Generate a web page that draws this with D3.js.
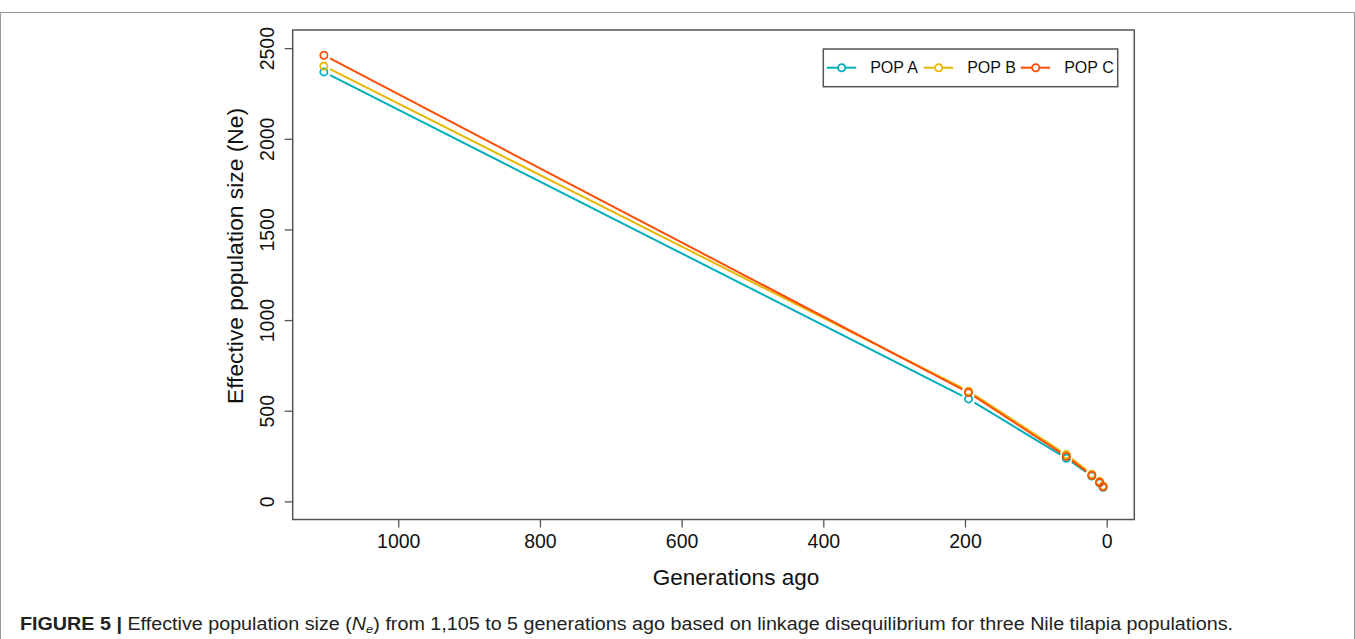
<!DOCTYPE html>
<html>
<head>
<meta charset="utf-8">
<script src="https://cdn.jsdelivr.net/npm/d3@7"></script>
<style>
  body { margin: 0; background: #fff; }
  svg { display: block; font-family: "Liberation Sans", Arial, sans-serif; }
</style>
</head>
<body>
<div id="chart"></div>
<script>
// generations ago (x) and Ne per population (y)
var generations = [1105, 195, 57, 21, 10, 5];
var popA = [2369, 565, 238, 140, 102, 78];
var popB = [2401, 608, 258, 150, 110, 85];
var popC = [2461, 600, 248, 143, 105, 80];
var seriesNames = ["POP A", "POP B", "POP C"];
var seriesColors = ["#00AFBB", "#E7B800", "#FC4E07"];
var xTicks = [0, 200, 400, 600, 800, 1000];
var yTicks = [0, 500, 1000, 1500, 2000, 2500];

var W = 1355, H = 639;
var svg = d3.select("#chart").append("svg")
    .attr("width", W).attr("height", H);

// outer figure frame
svg.append("rect")
    .attr("x", 0.5).attr("y", 12.5)
    .attr("width", W - 1).attr("height", 700)
    .attr("fill", "none").attr("stroke", "#999").attr("stroke-width", 1);

// plot region
var box = {left: 292.7, right: 1134.3, top: 30, bottom: 519.5};

var x = d3.scaleLinear().domain([1149, -39]).range([box.left, box.right]);
var y = d3.scaleLinear().domain([-100, 2600]).range([box.bottom, box.top]);

// axes
var yAxis = svg.append("g")
    .attr("transform", "translate(" + box.left + ",0)")
    .call(d3.axisLeft(y).tickValues(yTicks).tickFormat(d3.format("d")).tickSize(8).tickSizeOuter(0));
yAxis.select(".domain").remove();
yAxis.selectAll("line").attr("stroke", "#555").attr("stroke-width", 1.3);
yAxis.selectAll("text")
    .attr("x", 0).attr("y", -26).attr("dy", "0.35em")
    .attr("text-anchor", "middle")
    .attr("transform", "rotate(-90)")
    .style("font-size", "19.5px").attr("fill", "#111");

var xAxis = svg.append("g")
    .attr("transform", "translate(0," + box.bottom + ")")
    .call(d3.axisBottom(x).tickValues(xTicks).tickFormat(d3.format("d")).tickSize(8).tickSizeOuter(0));
xAxis.select(".domain").remove();
xAxis.selectAll("line").attr("stroke", "#555").attr("stroke-width", 1.3);
xAxis.selectAll("text")
    .attr("y", 22).attr("dy", "0.35em")
    .style("font-size", "19.5px").attr("fill", "#111");

// plot box
svg.append("rect")
    .attr("x", box.left).attr("y", box.top)
    .attr("width", box.right - box.left).attr("height", box.bottom - box.top)
    .attr("fill", "none").attr("stroke", "#555").attr("stroke-width", 1.5);

// axis titles
svg.append("text")
    .attr("x", 736).attr("y", 577).attr("dy", "0.35em")
    .attr("text-anchor", "middle")
    .style("font-size", "22.5px").attr("fill", "#111")
    .text("Generations ago");

svg.append("text")
    .attr("transform", "translate(235,256) rotate(-90)")
    .attr("dy", "0.35em")
    .attr("text-anchor", "middle")
    .style("font-size", "22.8px").attr("fill", "#111")
    .text("Effective population size (Ne)");

// type = "b": points with broken line segments between them
var gap = 7;
var allSeries = [popA, popB, popC];
allSeries.forEach(function (vals, k) {
    var pts = generations.map(function (g, i) { return [x(g), y(vals[i])]; });
    var g = svg.append("g").attr("class", "series");
    d3.pairs(pts).forEach(function (p) {
        var dx = p[1][0] - p[0][0], dy = p[1][1] - p[0][1];
        var len = Math.sqrt(dx * dx + dy * dy);
        if (len <= 2 * gap) return;
        var ux = dx / len, uy = dy / len;
        g.append("line")
            .attr("x1", p[0][0] + ux * gap).attr("y1", p[0][1] + uy * gap)
            .attr("x2", p[1][0] - ux * gap).attr("y2", p[1][1] - uy * gap)
            .attr("stroke", seriesColors[k]).attr("stroke-width", 2);
    });
    g.selectAll("circle").data(pts).enter().append("circle")
        .attr("cx", function (d) { return d[0]; })
        .attr("cy", function (d) { return d[1]; })
        .attr("r", 3.6)
        .attr("fill", "none")
        .attr("stroke", seriesColors[k]).attr("stroke-width", 1.8);
});

// legend
var legend = svg.append("g").attr("transform", "translate(823.3,49)");
legend.append("rect")
    .attr("width", 294.4).attr("height", 37.7)
    .attr("fill", "#fff").attr("stroke", "#555").attr("stroke-width", 1.5);
var item = legend.selectAll(".item").data(seriesNames).enter().append("g")
    .attr("class", "item")
    .attr("transform", function (d, i) { return "translate(" + (3.4 + i * 97) + ",18.7)"; });
item.append("line")
    .attr("x1", 0).attr("x2", 29.5)
    .attr("stroke", function (d, i) { return seriesColors[i]; })
    .attr("stroke-width", 2);
item.append("circle")
    .attr("cx", 15).attr("r", 3.6)
    .attr("fill", "#fff")
    .attr("stroke", function (d, i) { return seriesColors[i]; })
    .attr("stroke-width", 1.8);
item.append("text")
    .attr("x", 43.5).attr("dy", "0.35em")
    .style("font-size", "16px").attr("fill", "#111")
    .text(function (d) { return d; });

// caption
var cap = svg.append("text")
    .attr("x", 20).attr("y", 630)
    .attr("textLength", 1213).attr("lengthAdjust", "spacingAndGlyphs")
    .style("font-size", "17.5px").attr("fill", "#222");
cap.append("tspan").style("font-weight", "bold").text("FIGURE 5 | ");
cap.append("tspan").text("Effective population size (");
cap.append("tspan").style("font-style", "italic").text("N");
cap.append("tspan").style("font-style", "italic").style("font-size", "11.5px").attr("dy", 3).text("e");
cap.append("tspan").attr("dy", -3).text(") from 1,105 to 5 generations ago based on linkage disequilibrium for three Nile tilapia populations.");
</script>
</body>
</html>
